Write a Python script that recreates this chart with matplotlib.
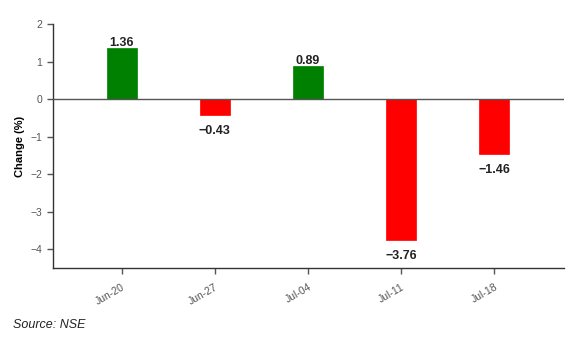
import matplotlib.pyplot as plt

weeks = ['Jun-20', 'Jun-27', 'Jul-04', 'Jul-11', 'Jul-18']
change = [1.36, -0.43, 0.89, -3.76, -1.46]

plt.rcParams['font.family'] = ['Liberation Sans', 'DejaVu Sans']

colors = ['#008000' if v >= 0 else '#ff0000' for v in change]

fig = plt.figure(figsize=(5.88, 3.4), dpi=100)
ax = fig.add_axes([0.090, 0.212, 0.869, 0.717])

x = list(range(len(weeks)))
ax.bar(x, change, width=0.32, color=colors, edgecolor=colors, linewidth=0.5, zorder=2)
ax.axhline(0, color='#555555', linewidth=1, zorder=3)

# value labels: above positive bars, below negative ones
for xi, v in zip(x, change):
    if v >= 0:
        ax.text(xi, v - 0.03, '%.2f' % v, ha='center', va='bottom',
                fontsize=9, fontweight='bold', color='#222222')
    else:
        ax.text(xi, v - 0.26, '\u2212%.2f' % abs(v), ha='center', va='top',
                fontsize=9, fontweight='bold', color='#222222')

ax.set_xlim(-0.74, 4.75)
ax.set_ylim(-4.5, 2)
ax.set_yticks([2, 1, 0, -1, -2, -3, -4])
ax.set_xticks(x)
ax.set_xticklabels(weeks, rotation=30, ha='right', rotation_mode='anchor')
ax.tick_params(axis='both', labelsize=7.5, colors='#555555', length=4, width=1)
ax.tick_params(axis='x', pad=6)

for side in ['top', 'right']:
    ax.spines[side].set_visible(False)
for side in ['left', 'bottom']:
    ax.spines[side].set_color('#333333')
    ax.spines[side].set_linewidth(1)
ax.spines['left'].set_bounds(-4.5, 2)

ax.set_ylabel('Change (%)', fontsize=8, fontweight='bold', labelpad=4)

fig.text(0.022, 0.035, 'Source: NSE', fontsize=9, style='italic', color='#222222')

fig.savefig('out.png', dpi=100)
